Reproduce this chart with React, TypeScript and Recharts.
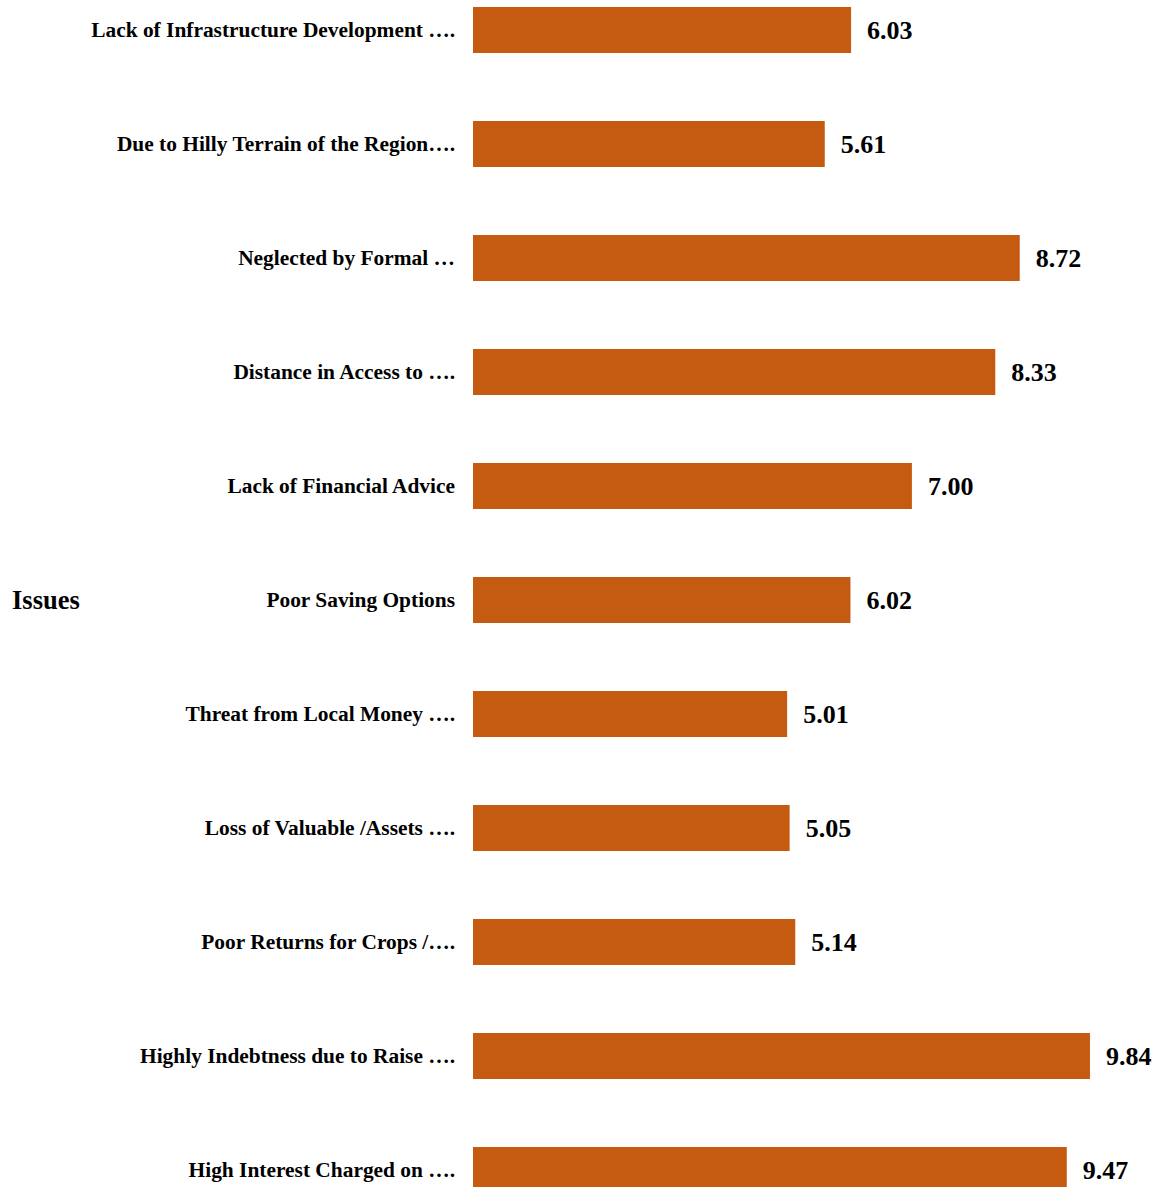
import React from "react";
import { BarChart, Bar, XAxis, YAxis, LabelList, Label } from "recharts";

const issues = [
  "Lack of Infrastructure Development \u2026.",
  "Due to Hilly Terrain of the Region\u2026.",
  "Neglected by Formal \u2026",
  "Distance in Access to \u2026.",
  "Lack of Financial Advice",
  "Poor Saving Options",
  "Threat from Local Money \u2026.",
  "Loss of Valuable /Assets \u2026.",
  "Poor Returns for Crops /\u2026.",
  "Highly Indebtness due to Raise \u2026.",
  "High Interest Charged on \u2026.",
];

const scores = [6.03, 5.61, 8.72, 8.33, 7.0, 6.02, 5.01, 5.05, 5.14, 9.84, 9.47];

const FONT = '"Liberation Serif", "Times New Roman", serif';
const BAR_COLOR = "#C55A11";

const data = issues.map((name, i) => ({ name, value: scores[i] }));

const IssueTick = (props: any) => {
  const { x, y, payload } = props;
  return (
    <text
      x={x}
      y={y}
      dy={7}
      textAnchor="end"
      fontFamily={FONT}
      fontWeight="bold"
      fontSize={21.4}
      fill="#000"
    >
      {payload.value}
    </text>
  );
};

export default function App() {
  return (
    <div style={{ position: "absolute", top: -27, left: 0 }}>
      <BarChart
        width={1163}
        height={1254}
        data={data}
        layout="vertical"
        margin={{ top: 0, right: 63, left: 0, bottom: 0 }}
        barCategoryGap="30%"
      >
        <XAxis type="number" domain={[0, 10]} hide />
        <YAxis
          type="category"
          dataKey="name"
          width={473}
          axisLine={false}
          tickLine={false}
          tickMargin={12}
          tick={<IssueTick />}
          interval={0}
        >
          <Label
            value="Issues"
            position="insideLeft"
            offset={12}
            style={{
              fontFamily: FONT,
              fontWeight: "bold",
              fontSize: 26.5,
              fill: "#000",
            }}
          />
        </YAxis>
        <Bar dataKey="value" fill={BAR_COLOR} barSize={46} isAnimationActive={false}>
          <LabelList
            dataKey="value"
            position="right"
            offset={16}
            formatter={(v: any) => Number(v).toFixed(2)}
            style={{
              fontFamily: FONT,
              fontWeight: "bold",
              fontSize: 26,
              fill: "#000",
            }}
          />
        </Bar>
      </BarChart>
    </div>
  );
}
